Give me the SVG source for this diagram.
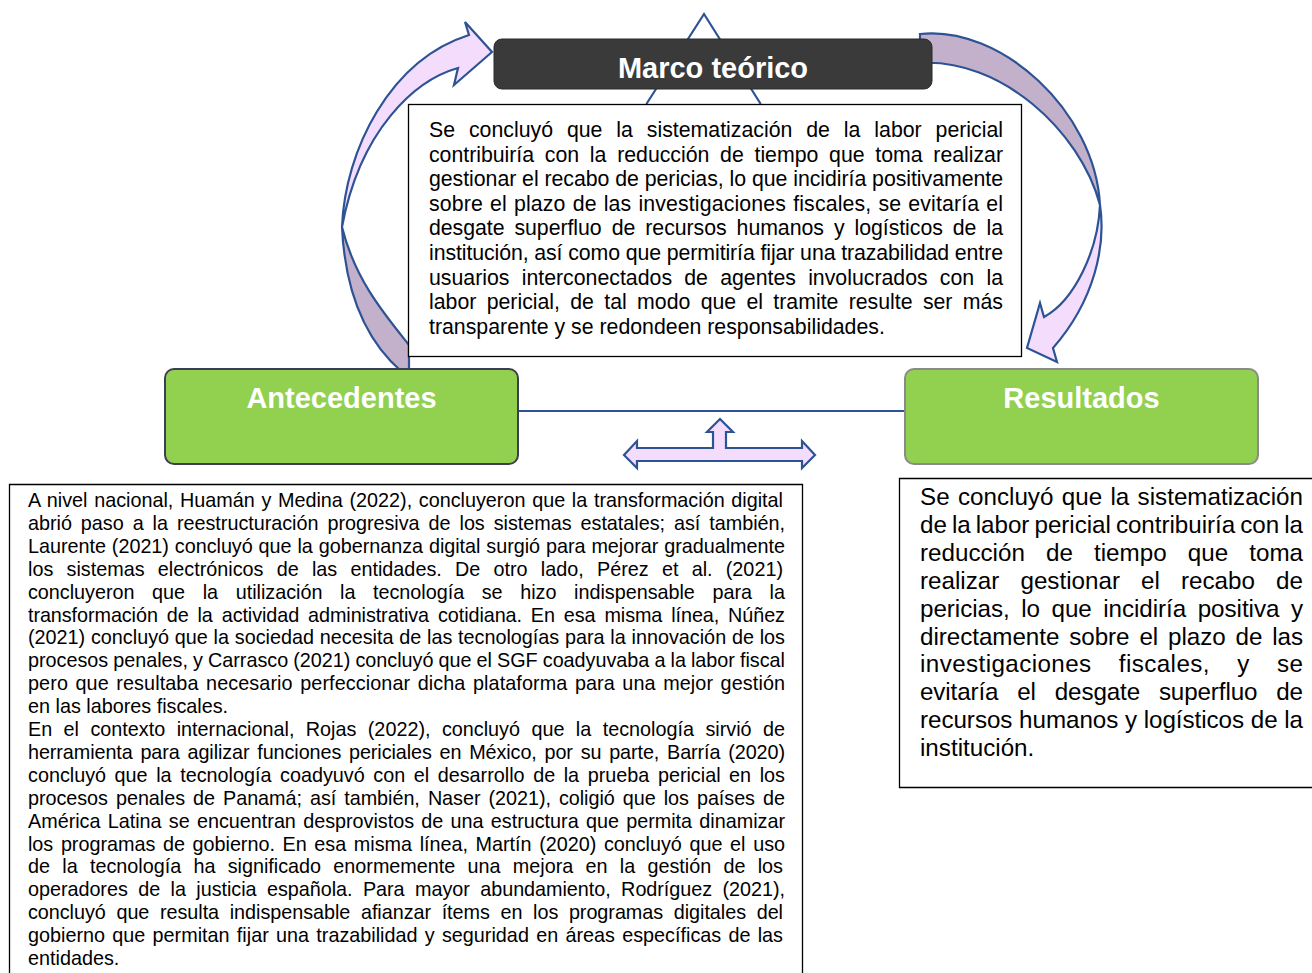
<svg xmlns="http://www.w3.org/2000/svg" width="1312" height="973" viewBox="0 0 1312 973">
<style>
.ln{fill:none;stroke:#2e5395;stroke-width:2.2;stroke-linejoin:miter}
.lt{fill:#f3dcfc;stroke:#2e5395;stroke-width:2.2;stroke-linejoin:miter}
.dk{fill:#c3b1cb;stroke:#2e5395;stroke-width:2.2}
.hd{font-family:"Liberation Sans",Arial,sans-serif;font-weight:bold;font-size:29px;fill:#ffffff;text-anchor:middle}
.t1{font-family:"Liberation Sans",Arial,sans-serif;font-size:21.3px;fill:#000}
.t2{font-family:"Liberation Sans",Arial,sans-serif;font-size:19.8px;fill:#000}
.t3{font-family:"Liberation Sans",Arial,sans-serif;font-size:24.2px;fill:#000}
.box{fill:#ffffff;stroke:#000;stroke-width:1.3}
</style>
<rect width="1312" height="973" fill="#ffffff"/>
<g id="connectors">
  <path class="ln" d="M646.4,104 L704,14 L760.7,104"/>
  <path class="ln" d="M518,411 L905,411"/>
  <path class="dk" d="M342,227 C345,290 365,340 402,372 L409,372 L409,345 C385,315 355,280 342,227 Z"/>
  <path class="lt" d="M458,68 C415,80 360,130 342,227 C345,150 390,60 469,35 L465,22 L492,52 L454,85 Z"/>
  <path class="dk" d="M920,34 C1000,25 1095,110 1100,205 C1080,130 1000,58 920,63 Z"/>
  <path class="lt" d="M1100,205 C1106,245 1095,300 1053,348 L1057,362 L1027,348 L1040,303 L1044,317 C1075,300 1098,250 1100,205 Z"/>
  <path class="lt" d="M624,455 L637,441 L637,448 L713,448 L713,432 L707,432 L720,419 L733,432 L726,432 L726,448 L802,448 L802,441 L815,455 L802,468 L802,461 L637,461 L637,468 Z"/>
</g>
<g id="marco">
  <rect x="494" y="39" width="438" height="50" rx="8" fill="#3a3a3a" stroke="#2b2b2b" stroke-width="1"/>
  <text class="hd" x="713" y="77.5">Marco teórico</text>
</g>
<g id="marco-texto">
  <rect class="box" x="408.5" y="104.5" width="613" height="252"/>
  <text class="t1" x="429" y="137" word-spacing="8" textLength="574" lengthAdjust="spacing">Se concluyó que la sistematización de la labor pericial</text>
  <text class="t1" x="429" y="161.6" word-spacing="4.9" textLength="574" lengthAdjust="spacing">contribuiría con la reducción de tiempo que toma realizar</text>
  <text class="t1" x="429" y="186.2" textLength="574" lengthAdjust="spacing">gestionar el recabo de pericias, lo que incidiría positivamente</text>
  <text class="t1" x="429" y="210.8" word-spacing="1" textLength="574" lengthAdjust="spacing">sobre el plazo de las investigaciones fiscales, se evitaría el</text>
  <text class="t1" x="429" y="235.4" word-spacing="4.2" textLength="574" lengthAdjust="spacing">desgate superfluo de recursos humanos y logísticos de la</text>
  <text class="t1" x="429" y="260" textLength="574" lengthAdjust="spacing">institución, así como que permitiría fijar una trazabilidad entre</text>
  <text class="t1" x="429" y="284.6" word-spacing="6.3" textLength="574" lengthAdjust="spacing">usuarios interconectados de agentes involucrados con la</text>
  <text class="t1" x="429" y="309.2" word-spacing="4.4" textLength="574" lengthAdjust="spacing">labor pericial, de tal modo que el tramite resulte ser más</text>
  <text class="t1" x="429" y="333.8">transparente y se redondeen responsabilidades.</text>
</g>
<g id="antecedentes">
  <rect x="165" y="369" width="353" height="95" rx="9" fill="#92d050" stroke="#3d3d55" stroke-width="2"/>
  <text class="hd" x="341.5" y="407.5">Antecedentes</text>
</g>
<g id="resultados">
  <rect x="905" y="369" width="353" height="95" rx="9" fill="#92d050" stroke="#8a8a8a" stroke-width="2"/>
  <text class="hd" x="1081.5" y="407.5">Resultados</text>
</g>
<g id="antecedentes-texto">
  <path d="M9.5,973 L9.5,484.5 L802.5,484.5 L802.5,973" fill="#ffffff" stroke="#000" stroke-width="1.3"/>
  <text class="t2" x="28" y="507" word-spacing="1.2" textLength="755" lengthAdjust="spacing">A nivel nacional, Huamán y Medina (2022), concluyeron que la transformación digital</text>
  <text class="t2" x="28" y="529.9" word-spacing="3.5" textLength="757" lengthAdjust="spacing">abrió paso a la reestructuración progresiva de los sistemas estatales; así también,</text>
  <text class="t2" x="28" y="552.8" word-spacing="0.4" textLength="757" lengthAdjust="spacing">Laurente (2021) concluyó que la gobernanza digital surgió para mejorar gradualmente</text>
  <text class="t2" x="28" y="575.7" word-spacing="7.7" textLength="755" lengthAdjust="spacing">los sistemas electrónicos de las entidades. De otro lado, Pérez et al. (2021)</text>
  <text class="t2" x="28" y="598.6" word-spacing="12.1" textLength="757" lengthAdjust="spacing">concluyeron que la utilización la tecnología se hizo indispensable para la</text>
  <text class="t2" x="28" y="621.5" word-spacing="3.5" textLength="757" lengthAdjust="spacing">transformación de la actividad administrativa cotidiana. En esa misma línea, Núñez</text>
  <text class="t2" x="28" y="644.4" word-spacing="0.3" textLength="757" lengthAdjust="spacing">(2021) concluyó que la sociedad necesita de las tecnologías para la innovación de los</text>
  <text class="t2" x="28" y="667.3" word-spacing="-0.4" textLength="757" lengthAdjust="spacing">procesos penales, y Carrasco (2021) concluyó que el SGF coadyuvaba a la labor fiscal</text>
  <text class="t2" x="28" y="690.2" word-spacing="1.9" textLength="757" lengthAdjust="spacing">pero que resultaba necesario perfeccionar dicha plataforma para una mejor gestión</text>
  <text class="t2" x="28" y="713.1">en las labores fiscales.</text>
  <text class="t2" x="28" y="736" word-spacing="5.9" textLength="757" lengthAdjust="spacing">En el contexto internacional, Rojas (2022), concluyó que la tecnología sirvió de</text>
  <text class="t2" x="28" y="758.9" word-spacing="2.4" textLength="757" lengthAdjust="spacing">herramienta para agilizar funciones periciales en México, por su parte, Barría (2020)</text>
  <text class="t2" x="28" y="781.8" word-spacing="3.1" textLength="757" lengthAdjust="spacing">concluyó que la tecnología coadyuvó con el desarrollo de la prueba pericial en los</text>
  <text class="t2" x="28" y="804.7" word-spacing="2.6" textLength="757" lengthAdjust="spacing">procesos penales de Panamá; así también, Naser (2021), coligió que los países de</text>
  <text class="t2" x="28" y="827.6" word-spacing="1.8" textLength="757" lengthAdjust="spacing">América Latina se encuentran desprovistos de una estructura que permita dinamizar</text>
  <text class="t2" x="28" y="850.5" word-spacing="2.2" textLength="757" lengthAdjust="spacing">los programas de gobierno. En esa misma línea, Martín (2020) concluyó que el uso</text>
  <text class="t2" x="28" y="873.4" word-spacing="6.8" textLength="755" lengthAdjust="spacing">de la tecnología ha significado enormemente una mejora en la gestión de los</text>
  <text class="t2" x="28" y="896.3" word-spacing="5" textLength="757" lengthAdjust="spacing">operadores de la justicia española. Para mayor abundamiento, Rodríguez (2021),</text>
  <text class="t2" x="28" y="919.2" word-spacing="5.2" textLength="755" lengthAdjust="spacing">concluyó que resulta indispensable afianzar ítems en los programas digitales del</text>
  <text class="t2" x="28" y="942.1" word-spacing="1.75" textLength="755" lengthAdjust="spacing">gobierno que permitan fijar una trazabilidad y seguridad en áreas específicas de las</text>
  <text class="t2" x="28" y="965">entidades.</text>
</g>
<g id="resultados-texto">
  <path d="M1312,478.5 L899.5,478.5 L899.5,787.5 L1312,787.5" fill="#ffffff" stroke="#000" stroke-width="1.3"/>
  <text class="t3" x="920" y="505" word-spacing="1.6" textLength="383" lengthAdjust="spacing">Se concluyó que la sistematización</text>
  <text class="t3" x="920" y="532.9" word-spacing="-1.6" textLength="383" lengthAdjust="spacing">de la labor pericial contribuiría con la</text>
  <text class="t3" x="920" y="560.8" word-spacing="14.4" textLength="383" lengthAdjust="spacing">reducción de tiempo que toma</text>
  <text class="t3" x="920" y="588.7" word-spacing="14.4" textLength="383" lengthAdjust="spacing">realizar gestionar el recabo de</text>
  <text class="t3" x="920" y="616.6" word-spacing="4.8" textLength="383" lengthAdjust="spacing">pericias, lo que incidiría positiva y</text>
  <text class="t3" x="920" y="644.5" word-spacing="3.2" textLength="383" lengthAdjust="spacing">directamente sobre el plazo de las</text>
  <text class="t3" x="920" y="672.4" word-spacing="20.2" textLength="383" lengthAdjust="spacing">investigaciones fiscales, y se</text>
  <text class="t3" x="920" y="700.3" word-spacing="12.3" textLength="383" lengthAdjust="spacing">evitaría el desgate superfluo de</text>
  <text class="t3" x="920" y="728.2" textLength="383" lengthAdjust="spacing">recursos humanos y logísticos de la</text>
  <text class="t3" x="920" y="756.1">institución.</text>
</g>
</svg>
